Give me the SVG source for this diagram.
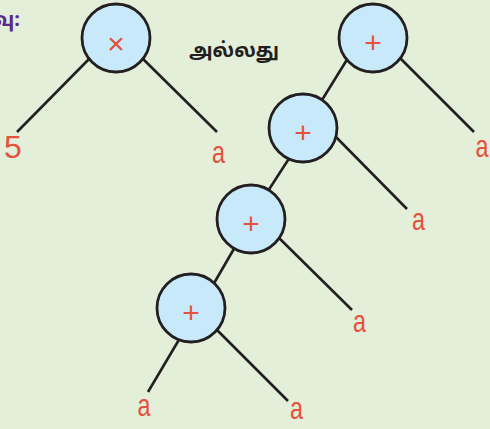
<svg xmlns="http://www.w3.org/2000/svg" width="490" height="429" viewBox="0 0 490 429">
<style>
.edge{stroke:#231f20;stroke-width:2.6;fill:none;stroke-linecap:butt}
.node circle{fill:#c8e9f9;stroke:#231f20;stroke-width:2.8}
.op{font-family:"Liberation Sans",Arial,sans-serif;font-size:30px;fill:#e5513a;text-anchor:middle}
.leaf{font-family:"Liberation Sans",Arial,sans-serif;font-size:32px;fill:#e5513a;text-anchor:middle}
.ta{font-family:"Noto Sans Tamil","Noto Sans","Lato",sans-serif;font-weight:bold}
</style>
<rect width="490" height="429" fill="#e3efd9"/>
<text class="ta" x="20" y="26" font-size="20" fill="#5b2a8c" text-anchor="end">வு:</text>
<text class="ta" x="189" y="57" font-size="20" fill="#231f20" textLength="90" lengthAdjust="spacingAndGlyphs">அல்லது</text>
<g id="connectors">
<line class="edge" x1="92" y1="56" x2="17" y2="132"/>
<line class="edge" x1="140" y1="56" x2="217" y2="132"/>
<line class="edge" x1="398" y1="56" x2="474" y2="132"/>
<line class="edge" x1="348" y1="58" x2="322" y2="100"/>
<line class="edge" x1="334" y1="135" x2="407" y2="209"/>
<line class="edge" x1="290" y1="157" x2="268" y2="191"/>
<line class="edge" x1="277" y1="236" x2="352" y2="310"/>
<line class="edge" x1="235" y1="247" x2="213" y2="285"/>
<line class="edge" x1="180" y1="338" x2="148" y2="392"/>
<line class="edge" x1="215" y1="328" x2="288" y2="401"/>
</g>
<g id="n1" class="node"><circle cx="116" cy="38" r="34"/><text class="op" x="116" y="54" font-size="32">×</text></g>
<g id="n2" class="node"><circle cx="373" cy="38" r="34"/><text class="op" x="373" y="53">+</text></g>
<g id="n3" class="node"><circle cx="303" cy="128" r="34"/><text class="op" x="303" y="143">+</text></g>
<g id="n4" class="node"><circle cx="251" cy="219" r="34"/><text class="op" x="251" y="234">+</text></g>
<g id="n5" class="node"><circle cx="191" cy="308" r="34"/><text class="op" x="191" y="323">+</text></g>
<g id="leaves">
<text class="leaf" x="13" y="158" font-size="26">5</text>
<text class="leaf" x="218.5" y="163" textLength="13" lengthAdjust="spacingAndGlyphs">a</text>
<text class="leaf" x="482" y="157" textLength="13" lengthAdjust="spacingAndGlyphs">a</text>
<text class="leaf" x="418.5" y="230" textLength="13" lengthAdjust="spacingAndGlyphs">a</text>
<text class="leaf" x="359.5" y="332" textLength="13" lengthAdjust="spacingAndGlyphs">a</text>
<text class="leaf" x="144" y="416" textLength="13" lengthAdjust="spacingAndGlyphs">a</text>
<text class="leaf" x="296.5" y="419" textLength="13" lengthAdjust="spacingAndGlyphs">a</text>
</g>
</svg>
